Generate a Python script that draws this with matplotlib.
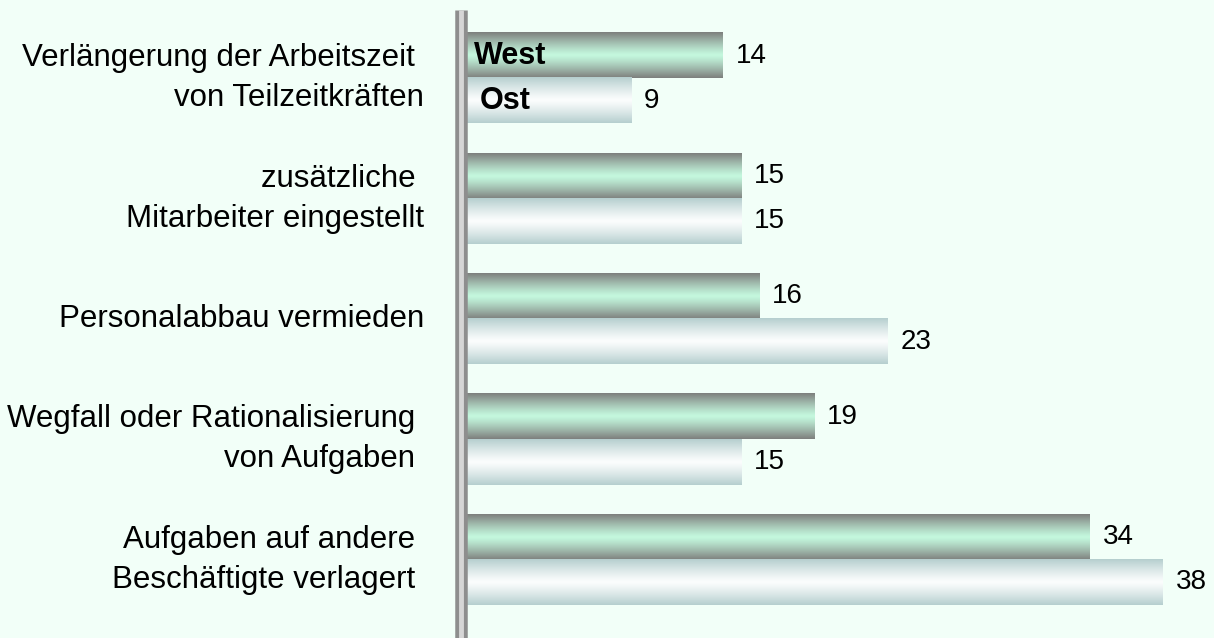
import numpy as np
import matplotlib.pyplot as plt
from matplotlib.lines import Line2D

plt.rcParams['font.family'] = ['Liberation Sans', 'DejaVu Sans']

categories = ["Verlängerung der Arbeitszeit \nvon Teilzeitkräften",
              "zusätzliche \nMitarbeiter eingestellt",
              "Personalabbau vermieden",
              "Wegfall oder Rationalisierung \nvon Aufgaben ",
              "Aufgaben auf andere \nBeschäftigte verlagert "]
west = [14, 15, 16, 19, 34]
ost = [9, 15, 23, 15, 38]
series = ["West", "Ost"]

bg = "#F2FFF8"
fig = plt.figure(figsize=(12.14, 6.38), dpi=100, facecolor=bg)
ax = fig.add_axes([466 / 1214, 0, 1 - 466 / 1214, 1])
ax.set_facecolor(bg)

# vertical gradients: edge colour -> centre colour -> edge colour
t = np.abs(np.linspace(-1, 1, 64))[:, None] ** 1.2
def grad(edge, centre):
    e = np.array(plt.matplotlib.colors.to_rgb(edge))
    c = np.array(plt.matplotlib.colors.to_rgb(centre))
    return (c + (e - c) * t[..., None]).repeat(2, axis=1)

g_west = grad("#7E807E", "#C4F8DE")
g_ost = grad("#B6CFCF", "#FBFDFD")

h = 0.375
y = np.arange(len(categories))
for i in range(len(categories)):
    for val, off, img in ((west[i], -h / 2, g_west), (ost[i], h / 2, g_ost)):
        yc = y[i] + off
        ax.imshow(img, extent=(0, val, yc + h / 2, yc - h / 2), aspect='auto',
                  interpolation='bilinear', zorder=2)
        ax.text(val + 0.7, yc, str(val), va='center', ha='left', fontsize=20)
    ax.text(-42 / 18.34, y[i], categories[i], ha='right', va='center', fontsize=22.5,
            multialignment='right', linespacing=1.44, clip_on=False)

ax.text(0.45, y[0] - h / 2, series[0], va='center', ha='left', fontsize=22, fontweight='bold')
ax.text(0.75, y[0] + h / 2, series[1], va='center', ha='left', fontsize=22, fontweight='bold')

ax.set_xlim(0, (1214 - 466) / 18.34)
ax.set_ylim(len(categories) - 0.35, -0.65)
ax.axis('off')

# vertical axis bar
fig.add_artist(Line2D([461 / 1214] * 2, [0, 1 - 10 / 638], transform=fig.transFigure,
                      color="#8E8E8E", lw=9, solid_capstyle='butt'))
fig.add_artist(Line2D([461 / 1214] * 2, [0, 1 - 10 / 638], transform=fig.transFigure,
                      color="#D6D6D6", lw=3.5, solid_capstyle='butt'))

fig.savefig("out.png", dpi=100, facecolor=bg)
